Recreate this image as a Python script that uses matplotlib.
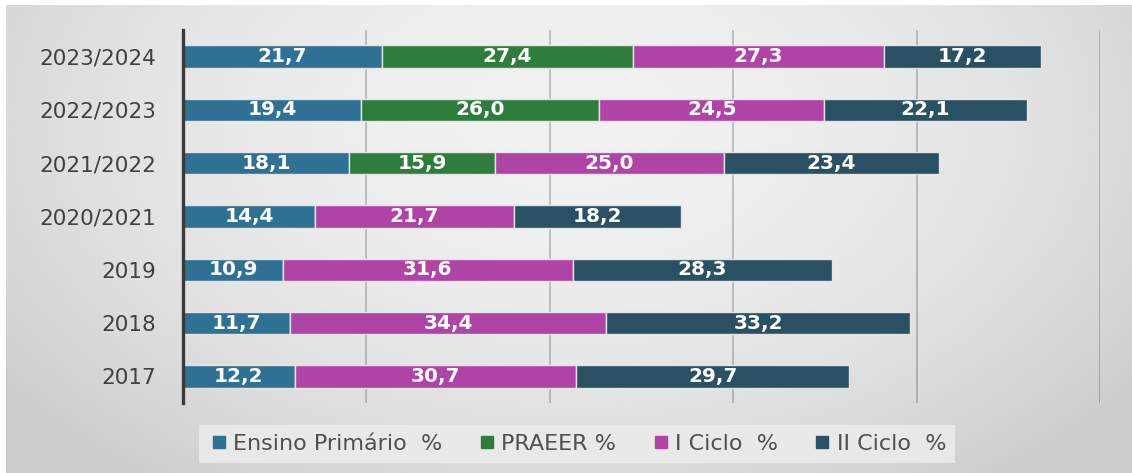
import numpy as np
import matplotlib
matplotlib.use("Agg")
import matplotlib.pyplot as plt
from matplotlib.lines import Line2D

# Data (bottom row first)
years = ["2017", "2018", "2019", "2020/2021", "2021/2022", "2022/2023", "2023/2024"]
ensino_primario = [12.2, 11.7, 10.9, 14.4, 18.1, 19.4, 21.7]
praeer = [None, None, None, None, 15.9, 26.0, 27.4]
i_ciclo = [30.7, 34.4, 31.6, 21.7, 25.0, 24.5, 27.3]
ii_ciclo = [29.7, 33.2, 28.3, 18.2, 23.4, 22.1, 17.2]

series_names = ["Ensino Primário  %", "PRAEER %", "I Ciclo  %", "II Ciclo  %"]
series_values = [ensino_primario, praeer, i_ciclo, ii_ciclo]
colors = ["#2f7195", "#2f7d3c", "#b043a6", "#2a5064"]

W, H, DPI = 1132, 473, 100
fig = plt.figure(figsize=(W / DPI, H / DPI), dpi=DPI)
fig.patch.set_facecolor("white")

# Soft gray panel behind the chart
bg = fig.add_axes([6 / W, 0, 1 - 6 / W, 1 - 5 / H])
bg.set_axis_off()
yy, xx = np.mgrid[0:1:300j, 0:1:600j]
r = np.sqrt(((xx - 0.5) / 0.62) ** 2 + ((yy - 0.25) / 0.95) ** 2)
shade = np.clip(0.945 - 0.14 * r ** 2, 0.80, 0.95)
bg.imshow(shade, cmap="gray", vmin=0, vmax=1, aspect="auto",
          extent=[0, 1, 1, 0], interpolation="bicubic")
bg.set_xlim(0, 1)
bg.set_ylim(1, 0)

ax = fig.add_axes([183 / W, 1 - 403 / H, (1100 - 183) / W, (403 - 30) / H])
ax.set_facecolor("none")

y = np.arange(len(years))
left = np.zeros(len(years))
bar_h = 0.42
for name, vals, col in zip(series_names, series_values, colors):
    v = np.array([0.0 if x is None else x for x in vals])
    ax.barh(y, v, left=left, height=bar_h, color=col,
            edgecolor="#e4e4e4", linewidth=1.0, zorder=3)
    for yi, (val, lo) in enumerate(zip(vals, left)):
        if val is None:
            continue
        ax.text(lo + val / 2, yi, f"{val:.1f}".replace(".", ","),
                ha="center", va="center", color="white",
                fontsize=14.5, fontweight="bold", family="DejaVu Sans", zorder=4)
    left = left + v

ax.set_xlim(0, 100)
ax.set_ylim(-0.5, len(years) - 0.5)
ax.set_xticks([20, 40, 60, 80, 100])
ax.set_xticklabels([])
ax.tick_params(axis="x", length=0)
ax.grid(axis="x", color="black", alpha=0.22, linewidth=1.3, zorder=0)
ax.set_yticks(y)
ax.set_yticklabels(years, fontsize=15.5, color="#404040", family="DejaVu Sans")
ax.tick_params(axis="y", length=0, pad=19)
for s in ["top", "right", "bottom"]:
    ax.spines[s].set_visible(False)
ax.spines["left"].set_color("#3a3a3a")
ax.spines["left"].set_linewidth(2.4)
ax.spines["left"].set_zorder(5)

handles = [Line2D([0], [0], marker="s", linestyle="none", markersize=8,
                  markerfacecolor=c, markeredgecolor=c) for c in colors]
leg = fig.legend(handles, series_names, loc="center",
                 bbox_to_anchor=(577 / W, 1 - 444 / H), ncol=4,
                 frameon=True, fancybox=False, handletextpad=0.15,
                 columnspacing=1.5, borderpad=0.4, borderaxespad=0,
                 handlelength=1.0,
                 prop={"family": "DejaVu Sans", "size": 16})
leg.get_frame().set_facecolor("#ebebeb")
leg.get_frame().set_edgecolor("none")
leg.get_frame().set_alpha(0.9)
for t in leg.get_texts():
    t.set_color("#505050")

fig.savefig("out.png", dpi=DPI)
